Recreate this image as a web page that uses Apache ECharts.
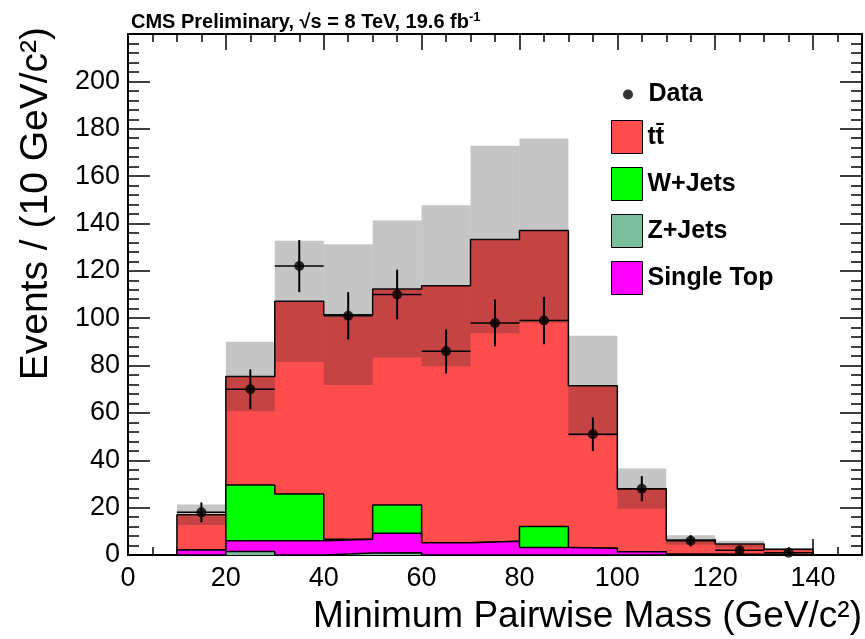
<!DOCTYPE html>
<html>
<head>
<meta charset="utf-8">
<script src="https://cdn.jsdelivr.net/npm/echarts@6/dist/echarts.min.js"></script>
<style>
html,body{margin:0;padding:0;background:#fff;}
#chart{width:865px;height:639px;}
</style>
</head>
<body>
<div id="chart"></div>
<script>
// ---- data ----
const binLow = [10, 20, 30, 40, 50, 60, 70, 80, 90, 100, 110, 120, 130];
const binWidth = 10;
const ttbar     = [14.9, 45.8, 81.3, 94.9, 91.2, 108.5, 127.4, 125.0, 68.7, 26.6, 6.0, 4.4, 2.3];
const wjets     = [0, 23.6, 19.8, 0, 11.9, 0, 0, 8.8, 0, 0, 0, 0, 0];
const zjets     = [0, 1.5, 0, 0.8, 1.0, 0, 0, 0, 0, 0, 0, 0, 0];
const singleTop = [2.1, 4.5, 6.0, 5.8, 8.2, 5.2, 5.8, 3.2, 2.8, 1.4, 0.3, 0.2, 0.1];
const mcErr     = [4.3, 14.7, 25.6, 29.7, 28.9, 34.0, 39.6, 38.9, 21.1, 8.5, 2.0, 1.4, 0.6];
const dataVals  = [18, 70, 122, 101, 110, 86, 98, 99, 51, 28, 6, 2, 1];
const dataErr   = [4.2, 8.4, 11.0, 10.0, 10.5, 9.3, 9.9, 10.0, 7.1, 5.3, 2.4, 1.4, 1.0];
const xTicks = [0, 20, 40, 60, 80, 100, 120, 140];
const yTicks = [0, 20, 40, 60, 80, 100, 120, 140, 160, 180, 200];

const COL_TT = '#ff4d4d', COL_W = '#00ff00', COL_Z = '#7bbf9d', COL_ST = '#ff00ff';
const FONT = '"Liberation Sans", Arial, Helvetica, sans-serif';

// cumulative stack layers (bottom -> top: Z, single top, W, ttbar)
const cumZ  = zjets.slice();
const cumST = cumZ.map((v, i) => v + singleTop[i]);
const cumW  = cumST.map((v, i) => v + wjets[i]);
const total = cumW.map((v, i) => v + ttbar[i]);

function stepPoints(h) {
  const pts = [[binLow[0], 0]];
  h.forEach((v, i) => pts.push([binLow[i], v]));
  pts.push([binLow[binLow.length - 1] + binWidth, 0]);
  return pts;
}

function layer(name, h, color, z) {
  return {
    name: name, type: 'line', step: 'end', data: stepPoints(h),
    symbol: 'none', showSymbol: false, silent: true, z: z,
    lineStyle: { color: '#000', width: 1.5 },
    itemStyle: { color: color },
    areaStyle: { color: color, opacity: 1 },
    xAxisIndex: 0, yAxisIndex: 0
  };
}

const chart = echarts.init(document.getElementById('chart'), null, { renderer: 'canvas' });

function mkAxis(extra, tickLen, minorLen, split) {
  return Object.assign({
    axisLine: { show: true, onZero: false, lineStyle: { color: '#000', width: 2 } },
    splitLine: { show: false },
    axisTick: { show: true, inside: true, length: tickLen, lineStyle: { color: '#000', width: 1.5 } },
    minorTick: { show: true, splitNumber: split, length: minorLen, lineStyle: { color: '#000', width: 1.5 } }
  }, extra);
}

const option = {
  animation: false,
  backgroundColor: '#fff',
  title: {
    left: 126, top: 5,
    text: '{a|CMS Preliminary, √s = 8 TeV, 19.6 fb}{sup|-1}',
    textStyle: {
      rich: {
        a: { fontFamily: FONT, fontWeight: 'bold', fontSize: 20, color: '#000', lineHeight: 24 },
        sup: { fontFamily: FONT, fontWeight: 'bold', fontSize: 13, color: '#000', padding: [0, 0, 10, 0] }
      }
    }
  },
  grid: { left: 128, right: 3, top: 34, bottom: 84, containLabel: false },
  legend: [
    {
      data: [{ name: 'Data', icon: 'circle', itemStyle: { color: '#000' } }],
      left: 623, top: 82, orient: 'vertical', padding: 0,
      itemWidth: 31, itemHeight: 10, selectedMode: false,
      textStyle: { fontFamily: FONT, fontWeight: 'bold', fontSize: 25, color: '#000' }
    },
    {
      data: [
        { name: 't\u0074\u0304', icon: 'rect', itemStyle: { color: COL_TT, borderColor: '#000', borderWidth: 1 } },
        { name: 'W+Jets', icon: 'rect', itemStyle: { color: COL_W, borderColor: '#000', borderWidth: 1 } },
        { name: 'Z+Jets', icon: 'rect', itemStyle: { color: COL_Z, borderColor: '#000', borderWidth: 1 } },
        { name: 'Single Top', icon: 'rect', itemStyle: { color: COL_ST, borderColor: '#000', borderWidth: 1 } }
      ],
      left: 611, top: 120, orient: 'vertical', padding: 0,
      itemWidth: 31, itemHeight: 33, itemGap: 13, selectedMode: false,
      textStyle: { fontFamily: FONT, fontWeight: 'bold', fontSize: 25, color: '#000' }
    }
  ],
  xAxis: [
    mkAxis({
      type: 'value', position: 'bottom', min: 0, max: 150, interval: 20,
      axisLabel: {
        show: true, margin: 10, color: '#000', fontFamily: FONT, fontSize: 27,
        formatter: v => (xTicks.indexOf(v) >= 0 ? String(v) : '')
      }
    }, 16, 8, 4),
    mkAxis({
      type: 'value', position: 'top', min: 0, max: 150, interval: 20,
      axisLabel: { show: false }
    }, 16, 8, 4)
  ],
  yAxis: [
    mkAxis({
      type: 'value', position: 'left', min: 0, max: 220, interval: 20,
      axisLabel: {
        show: true, margin: 8, color: '#000', fontFamily: FONT, fontSize: 27,
        formatter: v => (yTicks.indexOf(v) >= 0 ? String(v) : '')
      }
    }, 22, 11, 5),
    mkAxis({
      type: 'value', position: 'right', min: 0, max: 220, interval: 20,
      axisLabel: { show: false }
    }, 22, 11, 5)
  ],
  graphic: [
    {
      type: 'text', x: 36, y: 27, rotation: Math.PI / 2,
      style: { text: 'Events / (10 GeV/c²)', font: '39px ' + FONT, fill: '#000', textAlign: 'right', textVerticalAlign: 'middle' }
    },
    {
      type: 'text', x: 862, y: 617,
      style: { text: 'Minimum Pairwise Mass (GeV/c²)', font: '37px ' + FONT, fill: '#000', textAlign: 'right', textVerticalAlign: 'middle' }
    }
  ],
  series: [
    layer('t\u0074\u0304', total, COL_TT, 2),
    layer('W+Jets', cumW, COL_W, 3),
    layer('Single Top', cumST, COL_ST, 4),
    layer('Z+Jets', cumZ, COL_Z, 5),
    {
      name: 'band', type: 'custom', z: 6, silent: true,
      xAxisIndex: 0, yAxisIndex: 0,
      data: binLow.map((x, i) => [x, x + binWidth, total[i] - mcErr[i], total[i] + mcErr[i]]),
      encode: { x: [0, 1], y: [2, 3] },
      renderItem: function (params, api) {
        const p0 = api.coord([api.value(0), api.value(3)]);
        const p1 = api.coord([api.value(1), api.value(2)]);
        return { type: 'rect', shape: { x: p0[0], y: p0[1], width: p1[0] - p0[0], height: p1[1] - p0[1] }, style: { fill: 'rgba(40,40,40,0.27)' } };
      }
    },
    {
      name: 'dataerr', type: 'custom', z: 7, silent: true,
      xAxisIndex: 0, yAxisIndex: 0,
      data: binLow.map((x, i) => [x + binWidth / 2, dataVals[i], dataErr[i], binWidth / 2]),
      encode: { x: 0, y: 1 },
      renderItem: function (params, api) {
        const xc = api.value(0), v = api.value(1), e = api.value(2), hw = api.value(3);
        const a = api.coord([xc, v - e]), b = api.coord([xc, v + e]);
        const l = api.coord([xc - hw, v]), r = api.coord([xc + hw, v]);
        return {
          type: 'group', children: [
            { type: 'line', shape: { x1: a[0], y1: a[1], x2: b[0], y2: b[1] }, style: { stroke: '#000', lineWidth: 2 } },
            { type: 'line', shape: { x1: l[0], y1: l[1], x2: r[0], y2: r[1] }, style: { stroke: '#000', lineWidth: 1.5 } }
          ]
        };
      }
    },
    {
      name: 'Data', type: 'scatter', z: 8, silent: true,
      xAxisIndex: 0, yAxisIndex: 0,
      symbol: 'circle', symbolSize: 10,
      itemStyle: { color: '#000' },
      data: binLow.map((x, i) => [x + binWidth / 2, dataVals[i]])
    }
  ]
};
chart.setOption(option);
</script>
</body>
</html>
